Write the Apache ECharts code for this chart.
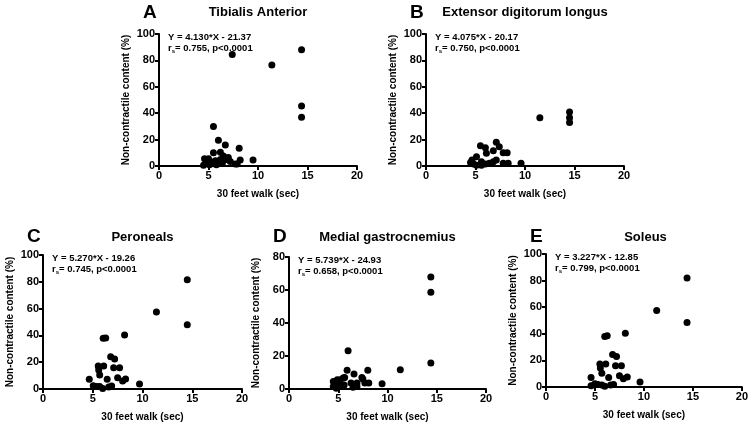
<!DOCTYPE html>
<html>
<head>
<meta charset="utf-8">
<script src="https://cdn.jsdelivr.net/npm/echarts@6/dist/echarts.min.js"></script>
<style>
  html, body { margin: 0; padding: 0; background: #fff; }
  #chart { width: 751px; height: 426px; }
</style>
</head>
<body>
<div id="chart"></div>
<script>
// x = 30 feet walk (sec), y = non-contractile content (%)
const tibialisAnterior = [
  [4.5, 0.5], [4.6, 5.5], [4.8, 2.5], [5.0, 5.5], [5.1, 1.0], [5.3, 3.0], [5.5, 30], [5.5, 10],
  [5.5, 2], [5.7, 4], [5.8, 1], [6.0, 19.5], [6.2, 10.5], [6.2, 5], [6.4, 2], [6.5, 7.5],
  [6.7, 16], [6.8, 5], [7.0, 6.5], [7.2, 3.5], [7.4, 84.5], [7.7, 1.5], [7.9, 1.5], [8.1, 13.5],
  [8.2, 4.5], [9.5, 4.5], [11.4, 76.5], [14.4, 88], [14.4, 45.5], [14.4, 37]
]
const extensorDigitorum = [
  [4.5, 2.6], [4.65, 4.5], [4.8, 1.6], [5.1, 7], [5.1, 0.5], [5.5, 15.4], [5.6, 3.3], [5.6, 0.5],
  [6.0, 13.9], [6.0, 1.5], [6.1, 9.6], [6.4, 2], [6.8, 11.6], [6.8, 3.3], [7.1, 18], [7.1, 4.5],
  [7.4, 14.6], [7.8, 10.1], [7.8, 2], [8.2, 10.1], [8.3, 2], [9.6, 2], [11.5, 36.6],
  [14.5, 41], [14.5, 36.6], [14.5, 33]
]
const peroneals = [
  [4.65, 7.2], [5.05, 2.5], [5.4, 1.8], [5.55, 17.2], [5.6, 14.2], [5.7, 10.4], [5.7, 1.8],
  [6.0, 0.3], [6.05, 37.8], [6.1, 17.2], [6.3, 38], [6.45, 7.2], [6.6, 1.5], [6.8, 24],
  [6.9, 2.3], [7.1, 15.9], [7.2, 22.4], [7.5, 8.4], [7.7, 15.9], [8.0, 6], [8.2, 40.3],
  [8.3, 7.5], [9.7, 3.7], [11.4, 57.5], [14.5, 81.5], [14.5, 48]
]
const medialGastrocnemius = [
  [4.5, 4.6], [4.5, 1.5], [4.8, 0.5], [4.9, 2.4], [4.9, 5.6], [5.2, 1.8], [5.2, 5.6], [5.5, 6.6],
  [5.6, 2.4], [5.65, 6.9], [5.9, 11.3], [6.0, 23.2], [6.3, 3.6], [6.5, 1], [6.6, 9.1], [6.9, 3.6],
  [6.9, 1.5], [7.4, 7], [7.5, 6], [7.7, 3.6], [8.0, 11.3], [8.1, 3.6], [9.45, 3.2], [11.3, 11.7],
  [14.4, 67.9], [14.4, 58.6], [14.4, 15.7]
]
const soleus = [
  [4.6, 7.2], [4.6, 1], [5.0, 2.5], [5.3, 1.8], [5.5, 17.2], [5.55, 14.2], [5.7, 10.4], [5.7, 1.5],
  [6.0, 0.5], [6.0, 38], [6.1, 17.2], [6.25, 38.5], [6.4, 7.2], [6.6, 1.5], [6.8, 24.5],
  [6.9, 1.8], [7.1, 16], [7.2, 23], [7.5, 8.5], [7.7, 16], [7.9, 6.2], [8.1, 40.5],
  [8.3, 7.5], [9.6, 3.7], [11.3, 57.5], [14.4, 82], [14.4, 48.5]
]

const panelLetters = ['A', 'B', 'C', 'D', 'E']
const panelTitles = ['Tibialis Anterior', 'Extensor digitorum longus', 'Peroneals', 'Medial gastrocnemius', 'Soleus']
const equations = ['Y = 4.130*X - 21.37', 'Y = 4.075*X - 20.17', 'Y = 5.270*X - 19.26', 'Y = 5.739*X - 24.93', 'Y = 3.227*X - 12.85']
const rsValues = ['0.755', '0.750', '0.745', '0.658', '0.799']
const pValues = ['p<0.0001', 'p<0.0001', 'p<0.0001', 'p<0.0001', 'p<0.0001']
const yMax = [100, 100, 100, 80, 100]
const seriesData = [tibialisAnterior, extensorDigitorum, peroneals, medialGastrocnemius, soleus]
const xLabel = '30 feet walk (sec)'
const yLabel = 'Non-contractile content (%)'

const FONT = 'Liberation Sans, Arial, sans-serif'

// plot rectangles (left, top, width, height) + header row y (letter top, title middle)
const boxes = [
  [159, 34, 198, 132],
  [426, 34, 198, 132],
  [43, 255, 199, 134],
  [289, 257, 197, 132],
  [546, 254, 199, 133]
]
const headerRow = [[5, 12], [5, 12], [229, 237], [229, 237], [229, 237]]

const chart = echarts.init(document.getElementById('chart'))

const axisCommon = {
  axisLine: { show: true, onZero: false, lineStyle: { color: '#000', width: 2 } },
  axisTick: { show: true, length: 4, lineStyle: { color: '#000', width: 2 } },
  axisLabel: { color: '#000', fontFamily: FONT, fontWeight: 'bold', fontSize: 11, margin: 4 },
  splitLine: { show: false },
  nameTextStyle: { color: '#000', fontFamily: FONT, fontWeight: 'bold', fontSize: 10 }
}

const grid = boxes.map(b => ({ left: b[0], top: b[1], width: b[2], height: b[3] }))
const xAxis = boxes.map((b, i) => Object.assign({}, axisCommon, {
  gridIndex: i, type: 'value', min: 0, max: 20, interval: 5,
  name: xLabel, nameLocation: 'middle', nameGap: 23
}))
const yAxis = boxes.map((b, i) => Object.assign({}, axisCommon, {
  gridIndex: i, type: 'value', min: 0, max: yMax[i], interval: 20,
  name: yLabel, nameLocation: 'middle', nameGap: 28
}))
const series = seriesData.map((d, i) => ({
  type: 'scatter', xAxisIndex: i, yAxisIndex: i, data: d,
  symbolSize: 7, itemStyle: { color: '#000', opacity: 1 }, silent: true
}))

const graphic = []
boxes.forEach((b, i) => {
  graphic.push({
    type: 'text', left: b[0] - 16, top: headerRow[i][0] - 2,
    style: { text: panelLetters[i], font: 'bold 19px ' + FONT, fill: '#000' }
  })
  graphic.push({
    type: 'text', x: b[0] + b[2] / 2, y: headerRow[i][1],
    style: { text: panelTitles[i], font: 'bold 13px ' + FONT, fill: '#000', align: 'center', verticalAlign: 'middle' }
  })
  graphic.push({
    type: 'text', x: b[0] + 9, y: b[1] - 2,
    style: {
      text: equations[i] + '\n{r|r}{s|s}= ' + rsValues[i] + ', ' + pValues[i],
      font: 'bold 9.5px ' + FONT, fill: '#000', lineHeight: 11,
      rich: {
        r: { font: 'bold 9.5px ' + FONT, fill: '#000' },
        s: { font: 'bold 6px ' + FONT, fill: '#000', verticalAlign: 'bottom', padding: [4, 0, 0, 0] }
      }
    }
  })
})

chart.setOption({
  backgroundColor: '#fff',
  animation: false,
  grid, xAxis, yAxis, series, graphic
})
</script>
</body>
</html>
